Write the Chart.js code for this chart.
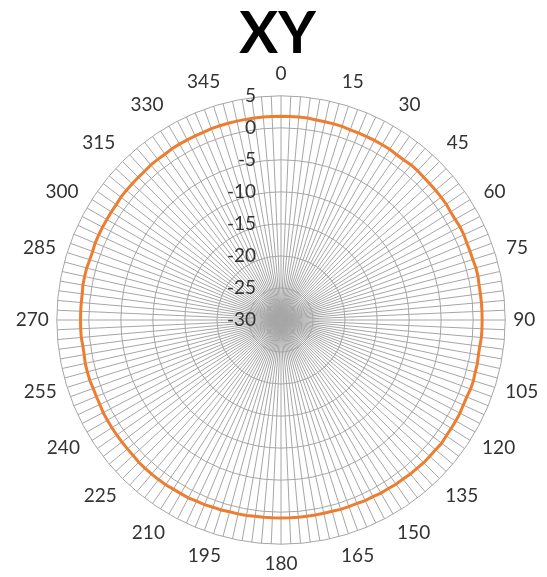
<!DOCTYPE html>
<html>
<head>
<meta charset="utf-8">
<script src="https://cdn.jsdelivr.net/npm/chart.js@4"></script>
<style>
  html, body { margin: 0; padding: 0; background: #fff; }
  #wrap { width: 547px; height: 577px; }
</style>
</head>
<body>
<div id="wrap"><canvas id="chart"></canvas></div>
<script>
// Angles (degrees), one spoke every 2.5 degrees
const angles = [
  0, 2.5, 5, 7.5, 10, 12.5, 15, 17.5, 20, 22.5, 25, 27.5,
  30, 32.5, 35, 37.5, 40, 42.5, 45, 47.5, 50, 52.5, 55, 57.5,
  60, 62.5, 65, 67.5, 70, 72.5, 75, 77.5, 80, 82.5, 85, 87.5,
  90, 92.5, 95, 97.5, 100, 102.5, 105, 107.5, 110, 112.5, 115, 117.5,
  120, 122.5, 125, 127.5, 130, 132.5, 135, 137.5, 140, 142.5, 145, 147.5,
  150, 152.5, 155, 157.5, 160, 162.5, 165, 167.5, 170, 172.5, 175, 177.5,
  180, 182.5, 185, 187.5, 190, 192.5, 195, 197.5, 200, 202.5, 205, 207.5,
  210, 212.5, 215, 217.5, 220, 222.5, 225, 227.5, 230, 232.5, 235, 237.5,
  240, 242.5, 245, 247.5, 250, 252.5, 255, 257.5, 260, 262.5, 265, 267.5,
  270, 272.5, 275, 277.5, 280, 282.5, 285, 287.5, 290, 292.5, 295, 297.5,
  300, 302.5, 305, 307.5, 310, 312.5, 315, 317.5, 320, 322.5, 325, 327.5,
  330, 332.5, 335, 337.5, 340, 342.5, 345, 347.5, 350, 352.5, 355, 357.5
];

// Angles that get a text label
const shownAngles = [0, 15, 30, 45, 60, 75, 90, 105, 120, 135, 150, 165,
  180, 195, 210, 225, 240, 255, 270, 285, 300, 315, 330, 345];

// Radial tick labels
const radialTicks = [-30, -25, -20, -15, -10, -5, 0, 5];

// XY series
const xyValues = [
  1.8, 1.8, 1.8, 1.8, 1.7, 1.7, 1.7, 1.7, 1.6, 1.6, 1.6, 1.6,
  1.6, 1.6, 1.5, 1.5, 1.6, 1.6, 1.5, 1.5, 1.5, 1.5, 1.5, 1.4,
  1.4, 1.5, 1.5, 1.4, 1.4, 1.4, 1.5, 1.5, 1.4, 1.4, 1.4, 1.4,
  1.4, 1.4, 1.4, 1.3, 1.3, 1.4, 1.4, 1.5, 1.5, 1.4, 1.4, 1.5,
  1.5, 1.5, 1.5, 1.6, 1.5, 1.5, 1.5, 1.4, 1.4, 1.3, 1.3, 1.2,
  1.2, 1.1, 1.1, 1.0, 1.0, 1.0, 0.9, 0.9, 0.9, 0.9, 0.9, 0.9,
  0.9, 0.9, 0.9, 0.9, 1.0, 1.0, 1.0, 1.1, 1.1, 1.2, 1.2, 1.3,
  1.3, 1.3, 1.4, 1.4, 1.4, 1.4, 1.4, 1.3, 1.3, 1.3, 1.3, 1.3,
  1.3, 1.3, 1.2, 1.2, 1.2, 1.3, 1.3, 1.3, 1.2, 1.2, 1.3, 1.3,
  1.3, 1.3, 1.3, 1.3, 1.4, 1.4, 1.4, 1.3, 1.3, 1.4, 1.4, 1.4,
  1.4, 1.4, 1.4, 1.5, 1.5, 1.5, 1.5, 1.5, 1.6, 1.6, 1.6, 1.7,
  1.7, 1.7, 1.7, 1.7, 1.8, 1.8, 1.8, 1.8, 1.8, 1.8, 1.8, 1.8
];

const textFont = 'Lato, "Open Sans", sans-serif';

// Draw the radial tick labels to the left of the 0 spoke, like Excel does
const tickLabelPlugin = {
  id: 'tickLabels',
  afterDraw(chart) {
    const scale = chart.scales.r;
    const c = chart.ctx;
    c.save();
    c.font = '19px ' + textFont;
    c.fillStyle = '#333333';
    c.textAlign = 'right';
    c.textBaseline = 'middle';
    radialTicks.forEach(function(v) {
      const d = scale.getDistanceFromCenterForValue(v);
      c.fillText(String(v), scale.xCenter - 25, scale.yCenter - d);
    });
    c.restore();
  }
};

const ctx = document.getElementById('chart').getContext('2d');
const chart = new Chart(ctx, {
  type: 'radar',
  data: {
    labels: angles,
    datasets: [{
      label: 'XY',
      data: xyValues,
      borderColor: '#ED7D31',
      borderWidth: 3,
      backgroundColor: 'rgba(0,0,0,0)',
      fill: false,
      pointRadius: 0,
      pointHoverRadius: 0,
      tension: 0
    }]
  },
  options: {
    responsive: true,
    maintainAspectRatio: false,
    animation: false,
    layout: { padding: { top: 2, bottom: -6, left: 7, right: -1 } },
    plugins: {
      legend: { display: false },
      tooltip: { enabled: false },
      title: {
        display: true,
        text: 'XY',
        color: '#000000',
        font: { family: textFont, size: 58, weight: 'bold', lineHeight: 1.0 },
        padding: { top: 3, bottom: -3 }
      }
    },
    scales: {
      r: {
        min: -30,
        max: 5,
        startAngle: 0,
        ticks: {
          stepSize: 5,
          display: false
        },
        grid: {
          circular: true,
          color: '#a6a6a6',
          lineWidth: 1
        },
        angleLines: {
          display: true,
          color: '#a6a6a6',
          lineWidth: 1
        },
        pointLabels: {
          color: '#333333',
          font: { family: textFont, size: 19 },
          padding: function(c) {
            const a = angles[c.index] * Math.PI / 180;
            return 8 + 3 * Math.max(0, Math.cos(a));
          },
          callback: function(label) {
            return shownAngles.includes(label) ? String(label) : '';
          }
        }
      }
    }
  },
  plugins: [tickLabelPlugin]
});
</script>
</body>
</html>
